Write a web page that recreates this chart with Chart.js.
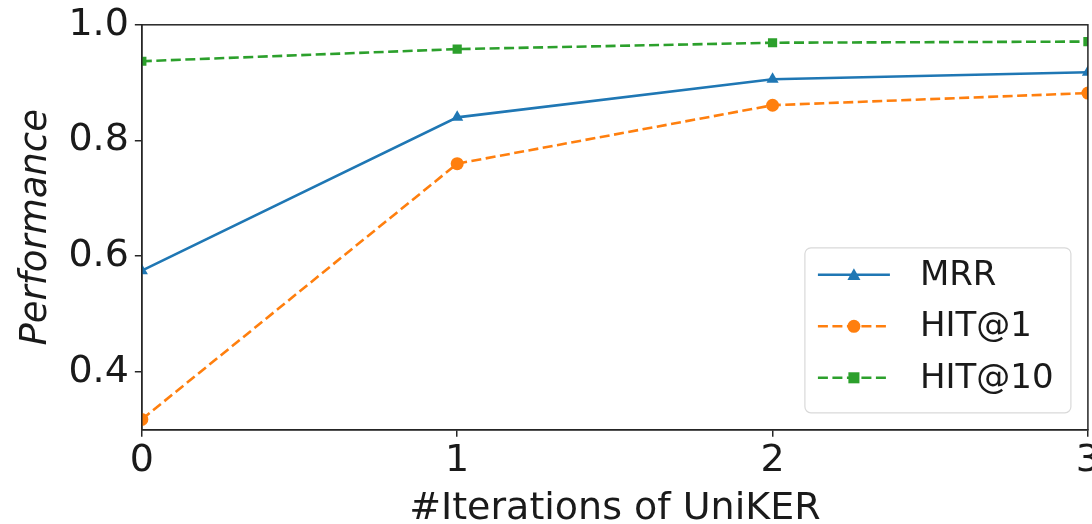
<!DOCTYPE html>
<html>
<head>
<meta charset="utf-8">
<script src="https://cdn.jsdelivr.net/npm/chart.js@4/dist/chart.umd.min.js"></script>
<style>
  html, body { margin: 0; padding: 0; background: #fff; overflow: hidden; }
  #wrap { width: 1102px; height: 528px; margin-top: -4px; }
</style>
</head>
<body>
<div id="wrap"><canvas id="perf" width="1102" height="528"></canvas></div>
<script>
// values
const iterations = [0, 1, 2, 3];
const mrr = [0.575, 0.84, 0.906, 0.918];
const hit1 = [0.318, 0.76, 0.861, 0.882];
const hit10 = [0.937, 0.958, 0.969, 0.971];
const xTicks = [0, 1, 2, 3];
const yTicks = [0.4, 0.6, 0.8, 1.0];
const seriesNames = ['MRR', 'HIT@1', 'HIT@10'];

const FONT = "'DejaVu Sans', sans-serif";
const AXIS = '#262626';

function pts(vals) {
    return iterations.map((x, i) => ({ x: x, y: vals[i] }));
}

// top + right spines, drawn over the lines like matplotlib
const frame = {
    id: 'frame',
    afterDatasetsDraw(chart) {
        const a = chart.chartArea, ctx = chart.ctx;
        ctx.save();
        ctx.strokeStyle = AXIS;
        ctx.lineWidth = 1.5;
        ctx.strokeRect(a.left, a.top, a.right - a.left, a.bottom - a.top);
        ctx.restore();
    }
};

// matplotlib-like legend in lower right of the axes
function marker(ctx, style, x, y, r) {
    ctx.beginPath();
    if (style === 'triangle') {
        ctx.moveTo(x, y - r);
        ctx.lineTo(x + r, y + r * 0.8);
        ctx.lineTo(x - r, y + r * 0.8);
        ctx.closePath();
    } else if (style === 'rect') {
        ctx.rect(x - r * 0.85, y - r * 0.85, r * 1.7, r * 1.7);
    } else {
        ctx.arc(x, y, r, 0, Math.PI * 2);
    }
    ctx.fill();
}

const legendBox = {
    id: 'legendBox',
    afterDraw(chart) {
        const a = chart.chartArea, ctx = chart.ctx;
        const w = 266, h = 165, pad = 17;
        const x0 = a.right - pad - w, y0 = a.bottom - pad - h;
        ctx.save();
        ctx.beginPath();
        ctx.roundRect(x0, y0, w, h, 6);
        ctx.fillStyle = 'rgba(255,255,255,0.85)';
        ctx.fill();
        ctx.strokeStyle = '#d9d9d9';
        ctx.lineWidth = 1.2;
        ctx.stroke();
        ctx.font = '34px ' + FONT;
        ctx.textBaseline = 'middle';
        chart.data.datasets.forEach((ds, i) => {
            const cy = y0 + 27 + i * 51.5;
            const lx = x0 + 13, rx = x0 + 85;
            ctx.strokeStyle = ds.borderColor;
            ctx.lineWidth = ds.borderWidth;
            ctx.setLineDash(ds.borderDash || []);
            ctx.beginPath();
            ctx.moveTo(lx, cy);
            ctx.lineTo(rx, cy);
            ctx.stroke();
            ctx.setLineDash([]);
            ctx.fillStyle = ds.borderColor;
            marker(ctx, ds.pointStyle, (lx + rx) / 2, cy, 6.5);
            ctx.fillStyle = '#1a1a1a';
            ctx.fillText(ds.label, x0 + 115, cy + 1);
        });
        ctx.restore();
    }
};

new Chart(document.getElementById('perf'), {
    type: 'line',
    data: {
        datasets: [{
            label: seriesNames[0],
            data: pts(mrr),
            borderColor: '#1f77b4',
            backgroundColor: '#1f77b4',
            borderWidth: 2.6,
            pointStyle: 'triangle',
            pointRadius: 7,
            pointBorderWidth: 0,
            clip: 0
        }, {
            label: seriesNames[1],
            data: pts(hit1),
            borderColor: '#ff7f0e',
            backgroundColor: '#ff7f0e',
            borderWidth: 2.6,
            borderDash: [10, 4.5],
            pointStyle: 'circle',
            pointRadius: 6.5,
            pointBorderWidth: 0,
            clip: 0
        }, {
            label: seriesNames[2],
            data: pts(hit10),
            borderColor: '#2ca02c',
            backgroundColor: '#2ca02c',
            borderWidth: 2.6,
            borderDash: [10, 4.5],
            pointStyle: 'rect',
            pointRadius: 6.5,
            pointBorderWidth: 0,
            clip: 0
        }]
    },
    options: {
        responsive: false,
        animation: false,
        layout: { padding: { top: 0, left: 14, right: 0, bottom: -8 } },
        plugins: {
            legend: { display: false },
            tooltip: { enabled: false }
        },
        scales: {
            x: {
                type: 'linear',
                min: 0,
                max: 3,
                afterBuildTicks: (axis) => { axis.ticks = xTicks.map(v => ({ value: v })); },
                ticks: {
                    font: { family: FONT, size: 38 },
                    color: '#1a1a1a',
                    padding: 2,
                    maxRotation: 0,
                    callback: (v) => String(v)
                },
                grid: { display: true, drawOnChartArea: false, drawTicks: true, tickLength: 7, color: AXIS, lineWidth: 1.5 },
                border: { display: true, color: AXIS, width: 1.5 },
                title: {
                    display: true,
                    text: '#Iterations of UniKER',
                    font: { family: FONT, size: 38 },
                    color: '#1a1a1a',
                    padding: { top: 0, bottom: 0 }
                }
            },
            y: {
                min: 0.3,
                max: 1.0,
                afterBuildTicks: (axis) => { axis.ticks = yTicks.map(v => ({ value: v })); },
                ticks: {
                    font: { family: FONT, size: 38 },
                    color: '#1a1a1a',
                    padding: 6,
                    callback: (v) => v.toFixed(1)
                },
                grid: { display: true, drawOnChartArea: false, drawTicks: true, tickLength: 7, color: AXIS, lineWidth: 1.5 },
                border: { display: true, color: AXIS, width: 1.5 },
                title: {
                    display: true,
                    text: 'Performance',
                    font: { family: FONT, size: 37, style: 'italic' },
                    color: '#1a1a1a',
                    padding: { top: 0, bottom: 4 }
                }
            }
        }
    },
    plugins: [frame, legendBox]
});
</script>
</body>
</html>
